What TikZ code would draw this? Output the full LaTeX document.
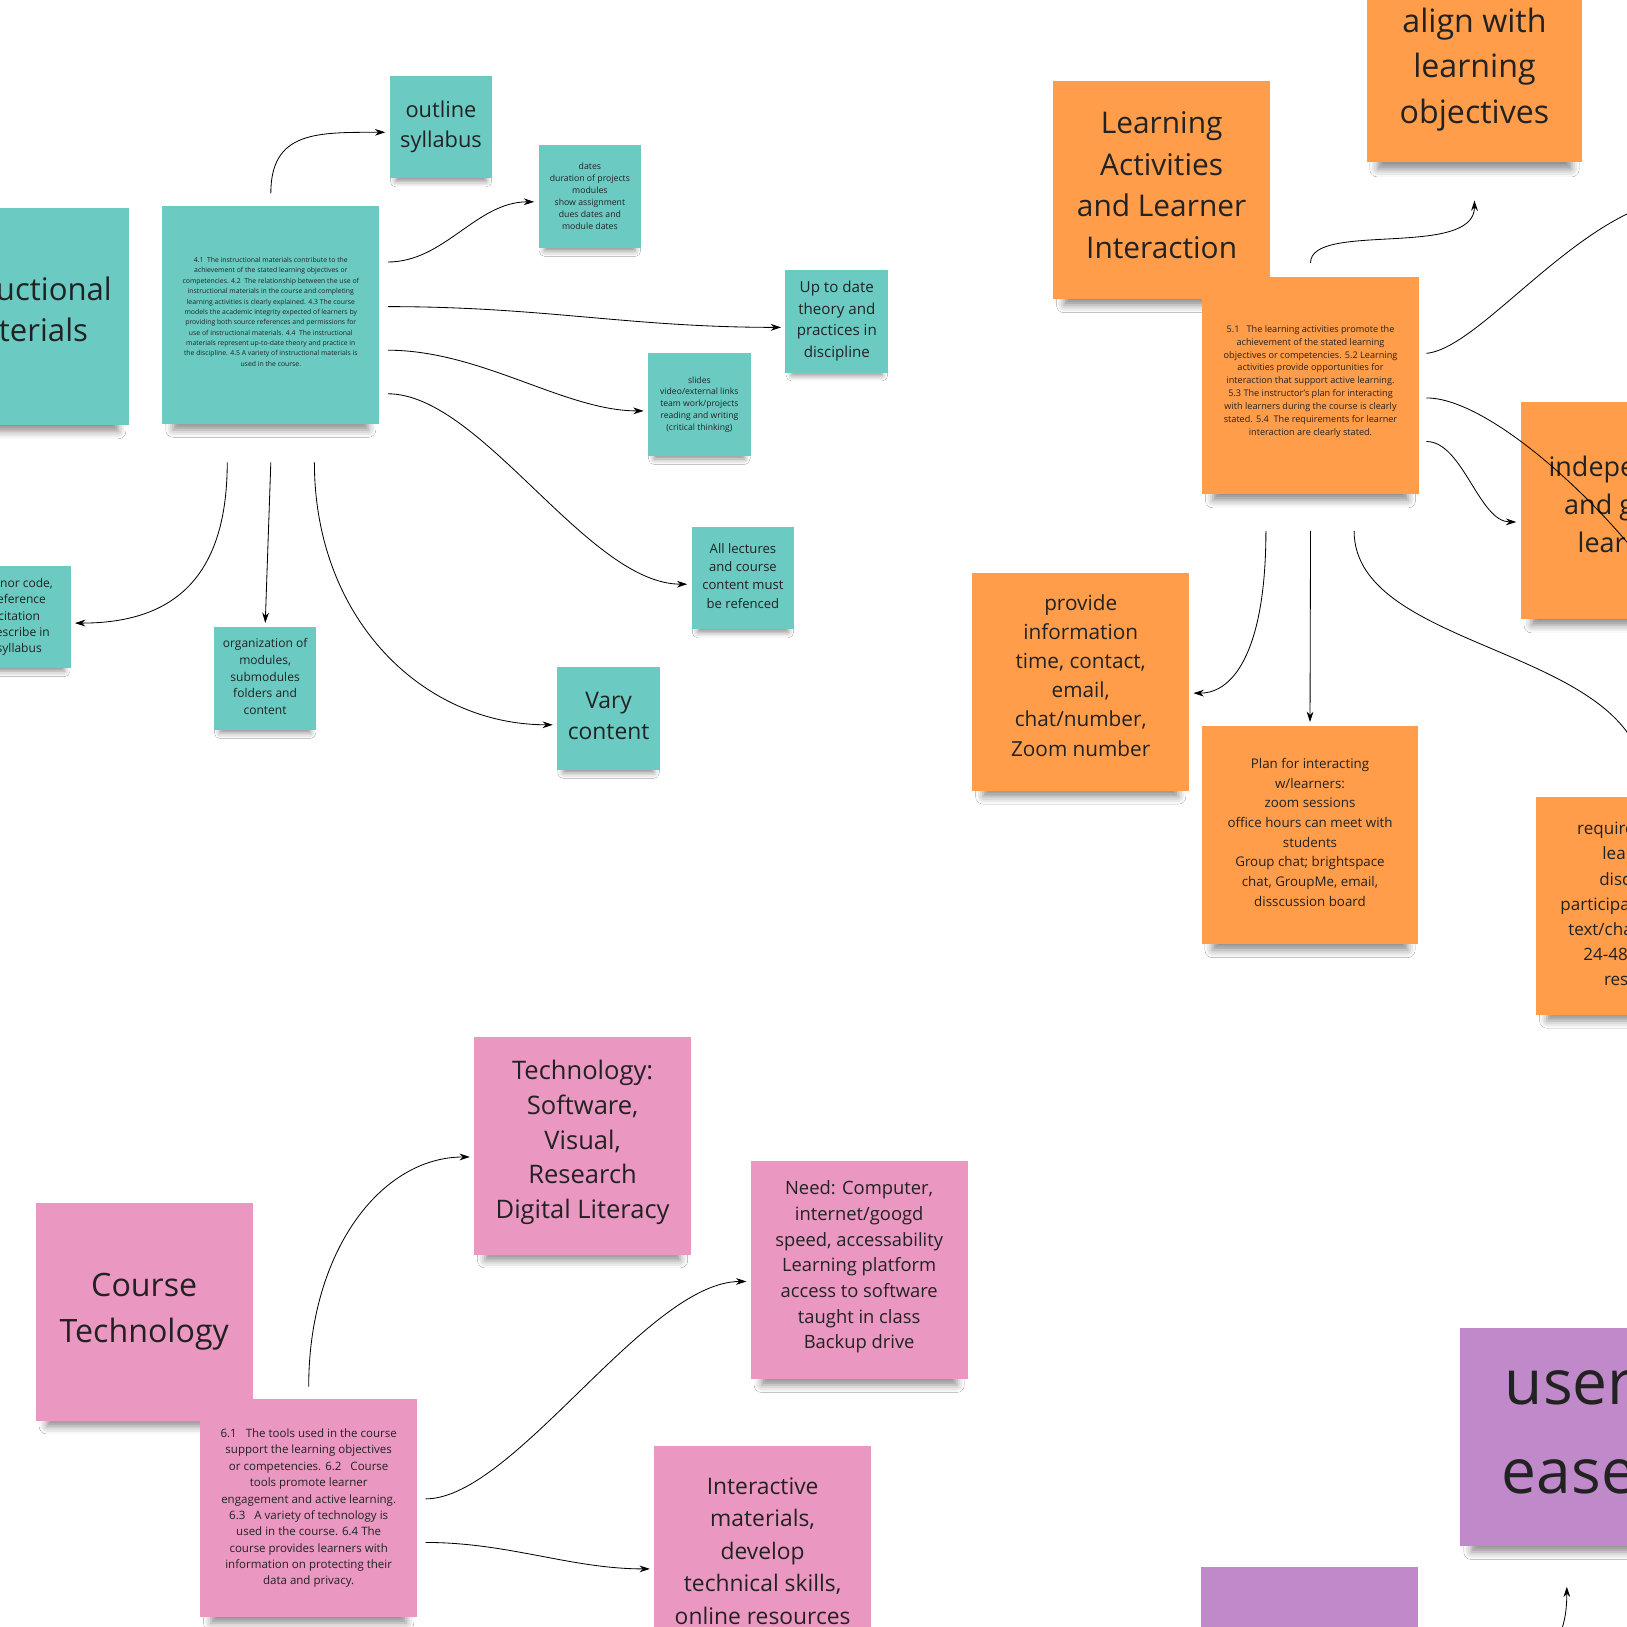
\documentclass[tikz,border=0pt]{standalone}
\usepackage{fontspec}
\setmainfont{Open Sans}
\usetikzlibrary{arrows.meta,calc,shadows.blur}
\definecolor{stickyteal}{HTML}{6BCBC3}
\definecolor{stickyorange}{HTML}{FF9D4A}
\definecolor{stickypink}{HTML}{EA98C2}
\definecolor{stickypurple}{HTML}{C089CA}
\definecolor{ink}{HTML}{222222}

\begin{document}
\begin{tikzpicture}[x=1pt, y=-1pt,
    note/.style={rectangle, fill=#1, text=ink, align=center, inner sep=0pt},
    bignote/.style={minimum width=209pt, minimum height=210pt,
      blur shadow={shadow xshift=0pt, shadow yshift=-18pt, shadow scale=0.9, shadow opacity=45, shadow blur radius=8pt}},
    smallnote/.style={minimum width=99pt, minimum height=99pt,
      blur shadow={shadow xshift=0pt, shadow yshift=-10pt, shadow scale=0.88, shadow opacity=45, shadow blur radius=6pt}},
    txt/.style 2 args={font=\fontsize{#1pt}{#2pt}\selectfont},
    arr/.style={-{Stealth[length=10pt,width=6.5pt]}, line width=0.8pt, shorten >=4pt}
]
\useasboundingbox (0,0) rectangle (1568,1568);
\fill[white] (0,0) rectangle (1568,1568);
\clip (0,0) rectangle (1568,1568);

% instructional materials
\node[note=stickyteal, bignote, txt={30}{40}, text depth=14pt] (instr) at (20,305) {Instructional\\Materials};
\node[note=stickyteal, bignote, txt={6.6}{10}, text depth=6pt] (crit41) at (261,303.5) {4.1\ \ The instructional materials contribute to the\\achievement of the stated learning objectives or\\competencies. 4.2\ \ The relationship between the use of\\instructional materials in the course and completing\\learning activities is clearly explained. 4.3 The course\\models the academic integrity expected of learners by\\providing both source references and permissions for\\use of instructional materials. 4.4\ \ The instructional\\materials represent up-to-date theory and practice in\\the discipline. 4.5 A variety of instructional materials is\\used in the course.};
\node[note=stickyteal, smallnote, txt={21}{29}] (syl) at (425,122.5) {outline\\syllabus};
\node[note=stickyteal, smallnote, txt={8.4}{11.6}] (dates) at (568.5,189.5) {dates\\duration of projects\\modules\\show assignment\\dues dates and\\module dates};
\node[note=stickyteal, smallnote, txt={14.6}{20.7}] (uptodate) at (806.5,309.5) {Up to date\\theory and\\practices in\\discipline};
\node[note=stickyteal, smallnote, txt={8.3}{11.5}] (slides) at (674,390) {slides\\video/external links\\team work/projects\\reading and writing\\(critical thinking)};
\node[note=stickyteal, smallnote, txt={12.6}{17.5}, text depth=4pt] (lectures) at (716,557) {All lectures\\and course\\content must\\be refenced};
\node[note=stickyteal, smallnote, txt={22}{30}, text depth=6pt] (vary) at (586.5,692.5) {Vary\\content};
\node[note=stickyteal, smallnote, txt={11.6}{16}, text depth=4pt] (organ) at (255.5,654) {organization of\\modules,\\submodules\\folders and\\content};
\node[note=stickyteal, smallnote, txt={11.6}{15.8}] (honor) at (18.5,594.5) {honor code,\\reference\\citation\\describe in\\syllabus};

% learning activities
\node[note=stickyorange, bignote, txt={28.8}{40}, text depth=10pt] (learnact) at (1119.5,183.5) {Learning\\Activities\\and Learner\\Interaction};
\node[note=stickyorange, bignote, minimum width=208pt, minimum height=178pt, txt={31}{44}] (align) at (1421,67) {align with\\learning\\objectives};
\node[note=stickyorange, bignote, txt={8.8}{12.4}, text depth=10pt] (crit51) at (1263,371.5) {5.1\ \ \ The learning activities promote the\\achievement of the stated learning\\objectives or competencies. 5.2 Learning\\activities provide opportunities for\\interaction that support active learning.\\5.3 The instructor’s plan for interacting\\with learners during the course is clearly\\stated. 5.4\ \ The requirements for learner\\interaction are clearly stated.};
\node[note=stickyorange, bignote, txt={26}{36.5}, text depth=12pt] (indep) at (1570,492) {independent\\and group\\learning};
\node[note=stickyorange, bignote, txt={20}{28}, text depth=12pt] (provide) at (1041.5,657) {provide\\information\\time, contact,\\email,\\chat/number,\\Zoom number};
\node[note=stickyorange, bignote, txt={12.85}{19}, text depth=6pt] (plan) at (1262.5,805) {Plan for interacting\\w/learners:\\zoom sessions\\office hours can meet with\\students\\Group chat; brightspace\\chat, GroupMe, email,\\disscussion board};
\node[note=stickyorange, bignote, txt={16.4}{24.3}] (require) at (1585,873) {requirements for\\learners in\\discussions\\participation through\\text/chat and video\\24-48 hours for\\responses};

% course technology
\node[note=stickypink, bignote, txt={31}{44}] (coursetech) at (139,1264) {Course\\Technology};
\node[note=stickypink, bignote, txt={11.1}{15.8}] (crit61) at (297.5,1453.5) {6.1\ \ \ The tools used in the course\\support the learning objectives\\or competencies. 6.2\ \ \ Course\\tools promote learner\\engagement and active learning.\\6.3\ \ \ A variety of technology is\\used in the course. 6.4 The\\course provides learners with\\information on protecting their\\data and privacy.};
\node[note=stickypink, bignote, txt={24.6}{33.5}, text depth=12pt] (techsw) at (561.5,1104) {Technology:\\Software,\\Visual,\\Research\\Digital Literacy};
\node[note=stickypink, bignote, txt={17.7}{24.7}, text depth=10pt] (need) at (828,1224) {Need: Computer,\\internet/googd\\speed, accessability\\Learning platform\\access to software\\taught in class\\Backup drive};
\node[note=stickypink, bignote, txt={22}{31.3}, text depth=9pt] (interact) at (735,1499) {Interactive\\materials,\\develop\\technical skills,\\online resources};

% purple
\node[note=stickypurple, bignote, txt={60}{85}, text depth=10pt] (user) at (1512,1385) {user\\ease};
\node[note=stickypurple, bignote] (purple2) at (1262,1615) {};

\coordinate (offne) at (1640,190);
\coordinate (offe) at (1630,620);
\coordinate (offs) at (1488,1600);

\draw[arr] ($(crit41.north)+(0,-12)$) .. controls +(0,-60) and +(-70,0) .. ($(syl.west)+(0,5)$);
\draw[arr] ($(crit41.east)+(8,-51)$) .. controls +(55,0) and +(-60,0) .. ($(dates.west)+(0,5)$);
\draw[arr] ($(crit41.east)+(8,-8)$) .. controls +(150,0) and +(-150,0) .. ($(uptodate.west)+(0,6)$);
\draw[arr] ($(crit41.east)+(8,34)$) .. controls +(90,0) and +(-80,0) .. ($(slides.west)+(0,6)$);
\draw[arr] ($(crit41.east)+(8,76)$) .. controls +(90,0) and +(-100,0) .. ($(lectures.west)+(0,6)$);
\draw[arr] ($(crit41.south)+(42,37)$) .. controls +(0,150) and +(-130,0) .. ($(vary.west)+(0,6)$);
\draw[arr] ($(crit41.south)+(0,37)$) -- (organ.north);
\draw[arr] ($(crit41.south)+(-42,37)$) .. controls +(0,120) and +(90,0) .. ($(honor.east)+(0,6)$);

\draw[arr] ($(crit51.north)+(0,-13)$) .. controls +(0,-40) and +(0,60) .. ($(align.south)+(0,33)$);
\draw[arr] ($(crit51.east)+(7,-31)$) .. controls +(55,-5) and +(-110,0) .. (offne);
\draw[arr] ($(crit51.east)+(7,12)$) .. controls +(75,0) and +(-30,-80) .. (offe);
\draw[arr] ($(crit51.east)+(7,54)$) .. controls +(35,0) and +(-40,0) .. ($(indep.west)+(0,11)$);
\draw[arr] ($(crit51.south)+(-43,35)$) .. controls +(0,110) and +(45,0) .. ($(provide.east)+(0,11)$);
\draw[arr] ($(crit51.south)+(0,35)$) -- (plan.north);
\draw[arr] ($(crit51.south)+(42,35)$) .. controls +(0,118) and +(0,-145) .. (require.north);

\draw[arr] ($(crit61.north)+(0,-12)$) .. controls +(0,-130) and +(-90,0) .. ($(techsw.west)+(0,11)$);
\draw[arr] ($(crit61.east)+(8,-9)$) .. controls +(85,0) and +(-100,0) .. ($(need.west)+(0,11)$);
\draw[arr] ($(crit61.east)+(8,33)$) .. controls +(80,0) and +(-80,0) .. ($(interact.west)+(0,13)$);
\draw[arr] (offs) .. controls +(15,-20) and +(0,40) .. ($(user.south)+(-2,35)$);
\end{tikzpicture}
\end{document}
